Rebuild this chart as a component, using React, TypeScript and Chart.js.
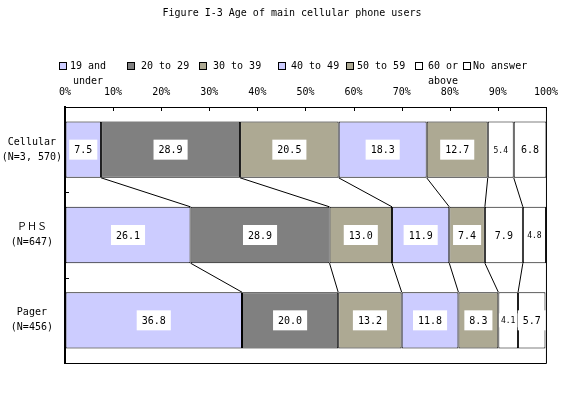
import { useEffect, useRef } from 'react';
import { Chart, registerables } from 'chart.js';
Chart.register(...registerables);

const titleText = 'Figure I-3 Age of main cellular phone users';
const categories = [['Cellular', '(N=3, 570)'], ['ＰＨＳ', '(N=647)'], ['Pager', '(N=456)']];
const seriesNames = ['19 and\nunder', '20 to 29', '30 to 39', '40 to 49', '50 to 59', '60 or\nabove', 'No answer'];
const cellular = [7.5, 28.9, 20.5, 18.3, 12.7, 5.4, 6.8];
const phs = [26.1, 28.9, 13.0, 11.9, 7.4, 7.9, 4.8];
const pager = [36.8, 20.0, 13.2, 11.8, 8.3, 4.1, 5.7];
const seriesColors = ['#CCCCFF', '#808080', '#ADA993', '#CCCCFF', '#ADA993', '#FFFFFF', '#FFFFFF'];

const legendBoxX = [59, 127, 199, 278, 346, 415, 463];
const legendTextX = [70, 141, 213, 291, 357, 428, 473];
const FONT = "'DejaVu Sans Mono', 'Noto Sans CJK JP', monospace";

const decor = {
  id: 'decor',
  afterDatasetsDraw(chart: any) {
    const ctx = chart.ctx;
    const area = chart.chartArea;
    const xs = chart.scales.x;
    const ys = chart.scales.y;
    ctx.save();
    // connector lines
    ctx.strokeStyle = '#000';
    ctx.lineWidth = 1;
    const n = chart.data.datasets.length;
    for (let d = 0; d < n - 1; d++) {
      const meta = chart.getDatasetMeta(d);
      for (let c = 0; c < meta.data.length - 1; c++) {
        const a = meta.data[c];
        const b = meta.data[c + 1];
        ctx.beginPath();
        ctx.moveTo(a.x, a.y + a.height / 2);
        ctx.lineTo(b.x, b.y - b.height / 2);
        ctx.stroke();
      }
    }
    // value labels
    ctx.textAlign = 'center';
    ctx.textBaseline = 'middle';
    for (let d = 0; d < n; d++) {
      const meta = chart.getDatasetMeta(d);
      const ds = chart.data.datasets[d];
      meta.data.forEach((el: any, i: number) => {
        const v = ds.data[i];
        const small = v < 5.5;
        ctx.font = (small ? '8px ' : '10px ') + FONT;
        const txt = v.toFixed(1);
        const w = ctx.measureText(txt).width;
        const cx = (el.x + el.base) / 2;
        const cy = el.y;
        const bw = w + (small ? 4 : 10);
        const bh = small ? 14 : 20;
        ctx.fillStyle = '#FFFFFF';
        ctx.fillRect(cx - bw / 2, cy - bh / 2, bw, bh);
        ctx.fillStyle = '#000';
        ctx.fillText(txt, cx, cy + 1);
      });
    }
    // frame: right & bottom
    ctx.beginPath();
    ctx.moveTo(area.right + 0.5, area.top);
    ctx.lineTo(area.right + 0.5, area.bottom + 0.5);
    ctx.lineTo(area.left, area.bottom + 0.5);
    ctx.stroke();
    // inner ticks on top axis
    for (let v = 0; v <= 100; v += 10) {
      const px = Math.round(xs.getPixelForValue(v)) + 0.5;
      ctx.beginPath();
      ctx.moveTo(px, area.top);
      ctx.lineTo(px, area.top + 4);
      ctx.stroke();
    }
    // inner ticks on left axis at category boundaries
    for (let c = 1; c < categories.length; c++) {
      const py = Math.round((ys.getPixelForValue(c - 1) + ys.getPixelForValue(c)) / 2) + 0.5;
      ctx.beginPath();
      ctx.moveTo(area.left, py);
      ctx.lineTo(area.left + 4, py);
      ctx.stroke();
    }
    ctx.restore();
  },
  afterDraw(chart: any) {
    const ctx = chart.ctx;
    ctx.save();
    ctx.fillStyle = '#000';
    ctx.font = '10px ' + FONT;
    ctx.textBaseline = 'middle';
    ctx.textAlign = 'center';
    ctx.fillText(titleText, 292, 13);
    ctx.textAlign = 'left';
    seriesNames.forEach((name, i) => {
      ctx.fillStyle = seriesColors[i];
      ctx.fillRect(legendBoxX[i], 62, 8, 8);
      ctx.strokeStyle = '#000';
      ctx.lineWidth = 1;
      ctx.strokeRect(legendBoxX[i] + 0.5, 62.5, 7, 7);
      ctx.fillStyle = '#000';
      name.split('\n').forEach((line, j) => {
        ctx.fillText(line, legendTextX[i] + (j > 0 && i === 0 ? 3 : 0), 66 + j * 15);
      });
    });
    ctx.restore();
  },
};

export default function App() {
  const ref = useRef<HTMLCanvasElement | null>(null);
  useEffect(() => {
    const datasets = seriesNames.map((name, i) => ({
      label: name,
      data: [cellular[i], phs[i], pager[i]],
      backgroundColor: seriesColors[i],
      borderColor: '#000000',
      borderWidth: 1,
      borderSkipped: false,
      barPercentage: 0.66,
      categoryPercentage: 1,
    }));
    const chart = new Chart(ref.current as HTMLCanvasElement, {
      type: 'bar',
      data: { labels: categories as any, datasets: datasets as any },
      options: {
        animation: false,
        responsive: false,
        indexAxis: 'y',
        layout: { padding: { top: 0, left: 0, right: 19, bottom: 35 } },
        plugins: { legend: { display: false }, title: { display: false }, tooltip: { enabled: false } },
        scales: {
          x: {
            type: 'linear',
            position: 'top',
            stacked: true,
            min: 0,
            max: 100,
            ticks: {
              stepSize: 10,
              callback: (v: any) => v + '%',
              color: '#000',
              font: { family: FONT, size: 10 },
              padding: 9,
              maxRotation: 0,
            },
            grid: { drawOnChartArea: false, drawTicks: false },
            border: { color: '#000', width: 1 },
            afterFit: (s: any) => { s.height = 107; },
          },
          y: {
            stacked: true,
            ticks: {
              color: '#000',
              font: { family: FONT, size: 10, lineHeight: 1.5 },
              crossAlign: 'center',
              padding: 3,
            },
            grid: { drawOnChartArea: false, drawTicks: false },
            border: { color: '#000', width: 2 },
            afterFit: (s: any) => { s.width = 65; },
          },
        },
      } as any,
      plugins: [decor],
    });
    return () => chart.destroy();
  }, []);
  return (
    <div style={{ position: 'fixed', left: 0, top: 0, width: 567, height: 398, background: '#fff' }}>
      <canvas ref={ref} width={567} height={398} style={{ display: 'block' }} />
    </div>
  );
}
